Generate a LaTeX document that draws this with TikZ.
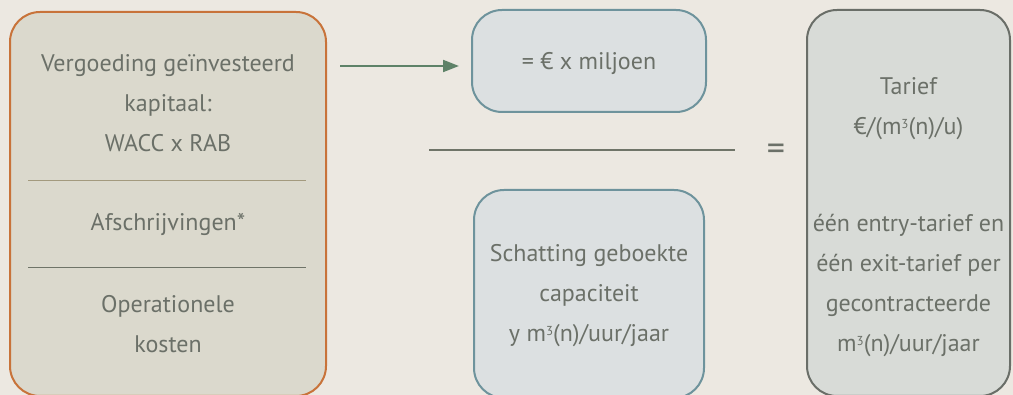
\documentclass[tikz,border=0pt]{standalone}
\usepackage{fontspec}
\setmainfont{PT Sans}
\usepackage{tikz}
\usetikzlibrary{arrows.meta,positioning}
\definecolor{bgTar}{RGB}{236,232,225}
\definecolor{sandTar}{RGB}{219,217,205}
\definecolor{orangeTar}{RGB}{200,115,58}
\definecolor{textTar}{RGB}{107,112,104}
\definecolor{iceTar}{RGB}{220,224,225}
\definecolor{steelTar}{RGB}{110,147,156}
\definecolor{stoneTar}{RGB}{216,219,215}
\definecolor{slateTar}{RGB}{106,110,104}
\definecolor{greenTar}{RGB}{94,130,104}
\definecolor{tanTar}{RGB}{163,154,126}
\definecolor{rulerTar}{RGB}{111,116,104}
\newcommand{\cubic}{\raisebox{0.55ex}{\fontsize{13}{13}\selectfont 3}}

\begin{document}
\begin{tikzpicture}[x=1pt,y=-1pt,
	box/.style={rounded corners=30pt, line width=2pt, anchor=center},
	txt/.style={text=textTar, align=center, font=\fontsize{24}{40}\selectfont}]
			% canvas
			\fill[bgTar] (0,0) rectangle (1013,395);
			\useasboundingbox (0,0) rectangle (1013,395);

			% boxes
			\node[box, draw=orangeTar, fill=sandTar, minimum width=316pt, minimum height=384pt] (costs) at (168,204) {};
			\node[box, draw=steelTar, fill=iceTar, minimum width=234pt, minimum height=102pt] (amount) at (589,61) {};
			\node[box, draw=steelTar, fill=iceTar, minimum width=230pt, minimum height=208pt] (capacity) at (589,294) {};
			\node[box, draw=slateTar, fill=stoneTar, minimum width=203pt, minimum height=386pt] (tariff) at (908.5,203) {};

			% texts
			\node[txt] (wacc) at (168,103) {Vergoeding geïnvesteerd\\kapitaal:\\WACC x RAB};
			\node[txt] (afschr) at (168,224) {Afschrijvingen*};
			\node[txt] (opex) at (168,324) {Operationele\\kosten};
			\node[txt] (euro) at (589,64) {= € x miljoen};
			\node[txt] (schatting) at (589,296) {Schatting geboekte\\capaciteit\\y m\cubic(n)/uur/jaar};
			\node[txt] (tarief) at (908.5,109) {Tarief\\€/(m\cubic(n)/u)};
			\node[txt] (entry) at (908.5,286) {één entry-tarief en\\één exit-tarief per\\gecontracteerde\\m\cubic(n)/uur/jaar};
			\node[txt, font=\fontsize{36}{36}\selectfont] (equals) at (776,152) {=};

			% dividers
			\draw[tanTar, line width=1pt] (28,181) -- (306,181);
			\draw[rulerTar, line width=1pt] (28,268) -- (306,268);
			\draw[rulerTar, line width=2.5pt] (429,150) -- (735,150);

			% arrow
			\coordinate (start) at (340,66);
			\draw[greenTar, line width=2pt, -{Triangle[length=16pt,width=12pt]}, shorten >=12pt] (start) -- (start -| amount.west);
		  \end{tikzpicture}
\end{document}
